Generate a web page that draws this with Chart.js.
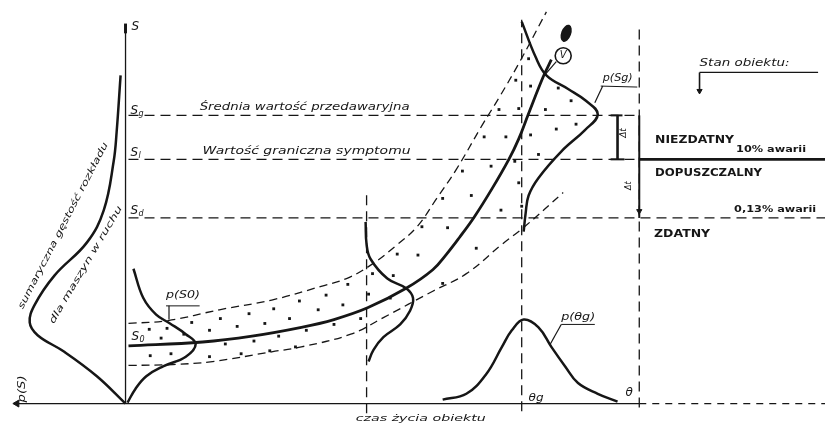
<!DOCTYPE html>
<html>
<head>
<meta charset="utf-8">
<script src="https://cdn.jsdelivr.net/npm/chart.js@4.4.1/dist/chart.umd.min.js"></script>
<style>
  html, body { margin: 0; padding: 0; background: #fff; }
  #c { display: block; }
</style>
</head>
<body>
<canvas id="c" width="830" height="432"></canvas>
<script>
// units: t = czas życia obiektu (from the S axis), S = wartość symptomu
const S_G = 295, S_L = 250, S_D = 190;
const T_MIN = -110, T_MID = 244, T_G = 401, T_END = 520, T_MAX = 708;

const trendCurve = [[3,59],[78,63],[128,69],[178,78],[211,86],[245,98],[284,118],[311,137],[325,153],[338,170],[353,191],[371,220],[388,250],[398,271],[408,297],[423,335],[431,352]];
const upperLimit = [[3,82],[43,85],[95,96],[148,106],[198,120],[226,129],[250,143],[273,161],[295,181],[315,210],[335,240],[361,285],[378,313],[398,348],[426,401]];
const lowerLimit = [[3,39],[48,40],[88,43],[148,53],[178,58],[228,71],[261,88],[311,115],[345,133],[381,163],[405,182],[443,216]];

const densityS0 = [[8,138],[18,108],[31,91],[45,82],[61,71],[71,61],[61,48],[38,38],[21,28],[10,15],[2,1]];
const densityMid = [[243,186],[244,163],[248,148],[265,128],[284,118],[291,108],[288,95],[278,81],[261,68],[251,55],[246,43]];
const densitySg = [[401,391],[415,355],[426,336],[448,322],[466,310],[478,296],[465,280],[441,258],[418,231],[408,213],[405,195],[403,176]];
const densityTheta = [[321,4],[345,10],[365,30],[381,58],[391,75],[403,86],[418,78],[431,58],[445,38],[458,21],[478,10],[498,2]];
const cumulative = [[-5,336],[-9,278],[-12,248],[-22,198],[-39,165],[-72,131],[-92,101],[-97,83],[-89,70],[-62,53],[-29,28],[0,0]];

const scatterDots = [[24,76],[42,77],[59,71],[67,83],[85,75],[96,87],[113,79],[125,92],[141,82],[150,97],[166,87],[176,105],
  [36,67],[25,49],[46,51],[85,48],[101,61],[117,51],[130,64],[146,54],[155,69],[172,58],
  [203,111],[225,122],[246,112],[195,96],[220,101],[238,87],[183,75],[211,81],[275,153],[296,152],[250,133],[268,108],[321,123],
  [341,238],[370,243],[321,210],[350,213],[300,181],[326,180],[355,159],[271,131],
  [363,273],[385,273],[410,275],[436,281],[456,286],[394,248],[418,255],[398,226],[380,198],[401,202],
  [408,353],[395,331],[410,325],[378,301],[398,302],[425,301],[438,323],[451,310]];

const ink = '#161616';
const pts = a => a.map(([x, y]) => ({ x, y }));

function curve(data, extra) {
  return Object.assign({
    data: pts(data), showLine: true, pointRadius: 0, borderColor: ink,
    borderWidth: 2.5, tension: 0.4, fill: false
  }, extra);
}
function seg(data, extra) {
  return curve(data, Object.assign({ tension: 0, borderWidth: 1.3 }, extra));
}
const dash = [10, 6];

const datasets = [
  // axes
  seg([[0, 0], [0, 388]]),
  seg([[0, 379], [0, 389]], { borderWidth: 3 }),
  seg([[T_MIN, 0], [T_END, 0]]),
  seg([[T_END, 0], [T_MAX, 0]], { borderDash: [7, 6] }),
  // levels
  seg([[3, S_G], [T_END, S_G]], { borderDash: dash }),
  seg([[3, S_L], [T_END, S_L]], { borderDash: dash }),
  seg([[T_END, S_L], [T_MAX, S_L]], { borderWidth: 2.6 }),
  seg([[3, S_D], [T_MAX, S_D]], { borderDash: dash }),
  // verticals
  seg([[T_G, -8], [T_G, 393]], { borderDash: dash }),
  seg([[T_END, -4], [T_END, 388]], { borderDash: dash }),
  seg([[T_END, S_D], [T_END, S_G]], { borderWidth: 2 }),
  seg([[T_MID, -10], [T_MID, 215]], { borderDash: dash }),
  // Δt bracket
  seg([[498, S_G], [498, S_L]], { borderWidth: 2.6 }),
  seg([[491, S_G], [503, S_G]], { borderWidth: 2 }),
  seg([[491, S_L], [505, S_L]], { borderWidth: 2 }),
  // stan obiektu
  seg([[581, 339], [701, 339]]),
  seg([[581, 339], [581, 320]], { borderWidth: 1.6 }),
  // band
  curve(upperLimit, { borderWidth: 1.3, borderDash: [8, 5] }),
  curve(lowerLimit, { borderWidth: 1.3, borderDash: [8, 5] }),
  curve(trendCurve, { borderWidth: 2.8 }),
  // densities
  curve(densityS0),
  curve(densityMid),
  curve(densitySg),
  curve(densityTheta),
  curve(cumulative),
  // leaders
  seg([[481, 325], [518, 324]], { borderWidth: 1 }),
  seg([[483, 325], [475, 308]], { borderWidth: 1.2 }),
  seg([[41, 100], [75, 100]], { borderWidth: 1 }),
  seg([[44, 100], [44, 86]], { borderWidth: 1.2 }),
  seg([[441, 81], [475, 81]], { borderWidth: 1 }),
  seg([[441, 81], [430, 61]], { borderWidth: 1.2 }),
  seg([[436, 350], [424, 336]], { borderWidth: 1.2 }),
  // dots
  { data: pts(scatterDots), showLine: false, pointStyle: 'rect', pointRadius: 2,
    backgroundColor: ink, borderWidth: 0 },
  // arrowheads
  { data: [{ x: T_MIN, y: 0 }], pointStyle: 'triangle', rotation: -90, pointRadius: 4,
    backgroundColor: ink, borderColor: ink, borderWidth: 1 },
  { data: [{ x: T_END, y: 197 }, { x: 581, y: 320 }], pointStyle: 'triangle', rotation: 180, pointRadius: 3,
    backgroundColor: ink, borderColor: ink, borderWidth: 1 }
];

function txt(ctx, s, x, y, o) {
  ctx.save();
  ctx.font = (o.style || 'italic ') + (o.size || 11) + 'px "DejaVu Sans"';
  ctx.fillStyle = ink;
  ctx.textBaseline = 'middle';
  ctx.textAlign = 'left';
  ctx.translate(x, y);
  if (o.rot) ctx.rotate(o.rot * Math.PI / 180);
  const w = ctx.measureText(s).width;
  const tw = o.w || w;
  if (o.center) ctx.translate(-tw / 2, 0);
  ctx.scale(tw / w, 1);
  ctx.fillText(s, 0, 0);
  ctx.restore();
}

const labelsPlugin = {
  id: 'labels',
  afterDatasetsDraw(chart) {
    const ctx = chart.ctx;
    const X = v => chart.scales.x.getPixelForValue(v);
    const Y = v => chart.scales.y.getPixelForValue(v);
    const sub = (m, s, t, v) => {
      txt(ctx, m, X(t), Y(v), { size: 12 });
      txt(ctx, s, X(t) + 8, Y(v) + 3, { size: 8 });
    };
    sub('S', '', 6, 386);
    sub('S', 'g', 5, 300);
    sub('S', 'l', 5, 257);
    sub('S', 'd', 5, 197);
    sub('S', '0', 6, 68);

    txt(ctx, 'Średnia wartość przedawaryjna', X(75), Y(303), { size: 10, w: 210 });
    txt(ctx, 'Wartość graniczna symptomu', X(78), Y(258), { size: 10, w: 208 });
    txt(ctx, 'Stan obiektu:', X(581), Y(348), { size: 10, w: 90 });
    txt(ctx, 'NIEZDATNY', X(536), Y(270), { style: 'bold ', size: 11, w: 79 });
    txt(ctx, '10% awarii', X(618), Y(260), { style: 'bold ', size: 9, w: 70 });
    txt(ctx, 'DOPUSZCZALNY', X(536), Y(236), { style: 'bold ', size: 11, w: 107 });
    txt(ctx, '0,13% awarii', X(616), Y(198), { style: 'bold ', size: 9, w: 82 });
    txt(ctx, 'ZDATNY', X(535), Y(173), { style: 'bold ', size: 11, w: 56 });

    txt(ctx, 'p(Sg)', X(483), Y(333), { size: 10, w: 30 });
    txt(ctx, 'p(S0)', X(41), Y(111), { size: 11, w: 34 });
    txt(ctx, 'p(θg)', X(441), Y(88), { size: 10, w: 34 });
    txt(ctx, 'θg', X(408), Y(6), { size: 11, w: 15 });
    txt(ctx, 'θ', X(506), Y(11), { size: 12 });
    txt(ctx, 'czas życia obiektu', X(233), Y(-15), { size: 9, w: 130 });
    txt(ctx, 'p(S)', X(-104), Y(15), { size: 10, w: 27, rot: -90, center: true });
    txt(ctx, 'Δt', X(504), Y(277), { size: 9, rot: -90, center: true });
    txt(ctx, 'Δt', X(510), Y(223), { size: 8, rot: -90, center: true });
    txt(ctx, 'sumaryczna gęstość rozkładu', X(-63), Y(182), { size: 9, w: 186, rot: -62.7, center: true });
    txt(ctx, 'dla maszyn w ruchu', X(-40), Y(142), { size: 9, w: 135, rot: -59.4, center: true });

    // circled V and blob
    ctx.save();
    ctx.strokeStyle = ink; ctx.lineWidth = 1.6;
    ctx.beginPath(); ctx.arc(X(443), Y(356), 8, 0, Math.PI * 2); ctx.stroke();
    txt(ctx, 'V', X(443), Y(356), { size: 10, center: true });
    ctx.fillStyle = ink;
    ctx.beginPath(); ctx.ellipse(X(446), Y(379), 5, 9, 0.35, 0, Math.PI * 2); ctx.fill();
    ctx.restore();
  }
};

new Chart(document.getElementById('c'), {
  type: 'scatter',
  data: { datasets },
  options: {
    responsive: false,
    animation: false,
    layout: { padding: 0 },
    plugins: { legend: { display: false }, tooltip: { enabled: false } },
    scales: {
      x: { type: 'linear', min: -122, max: 708, display: false },
      y: { type: 'linear', min: -24, max: 408, display: false }
    }
  },
  plugins: [labelsPlugin]
});
</script>
</body>
</html>
